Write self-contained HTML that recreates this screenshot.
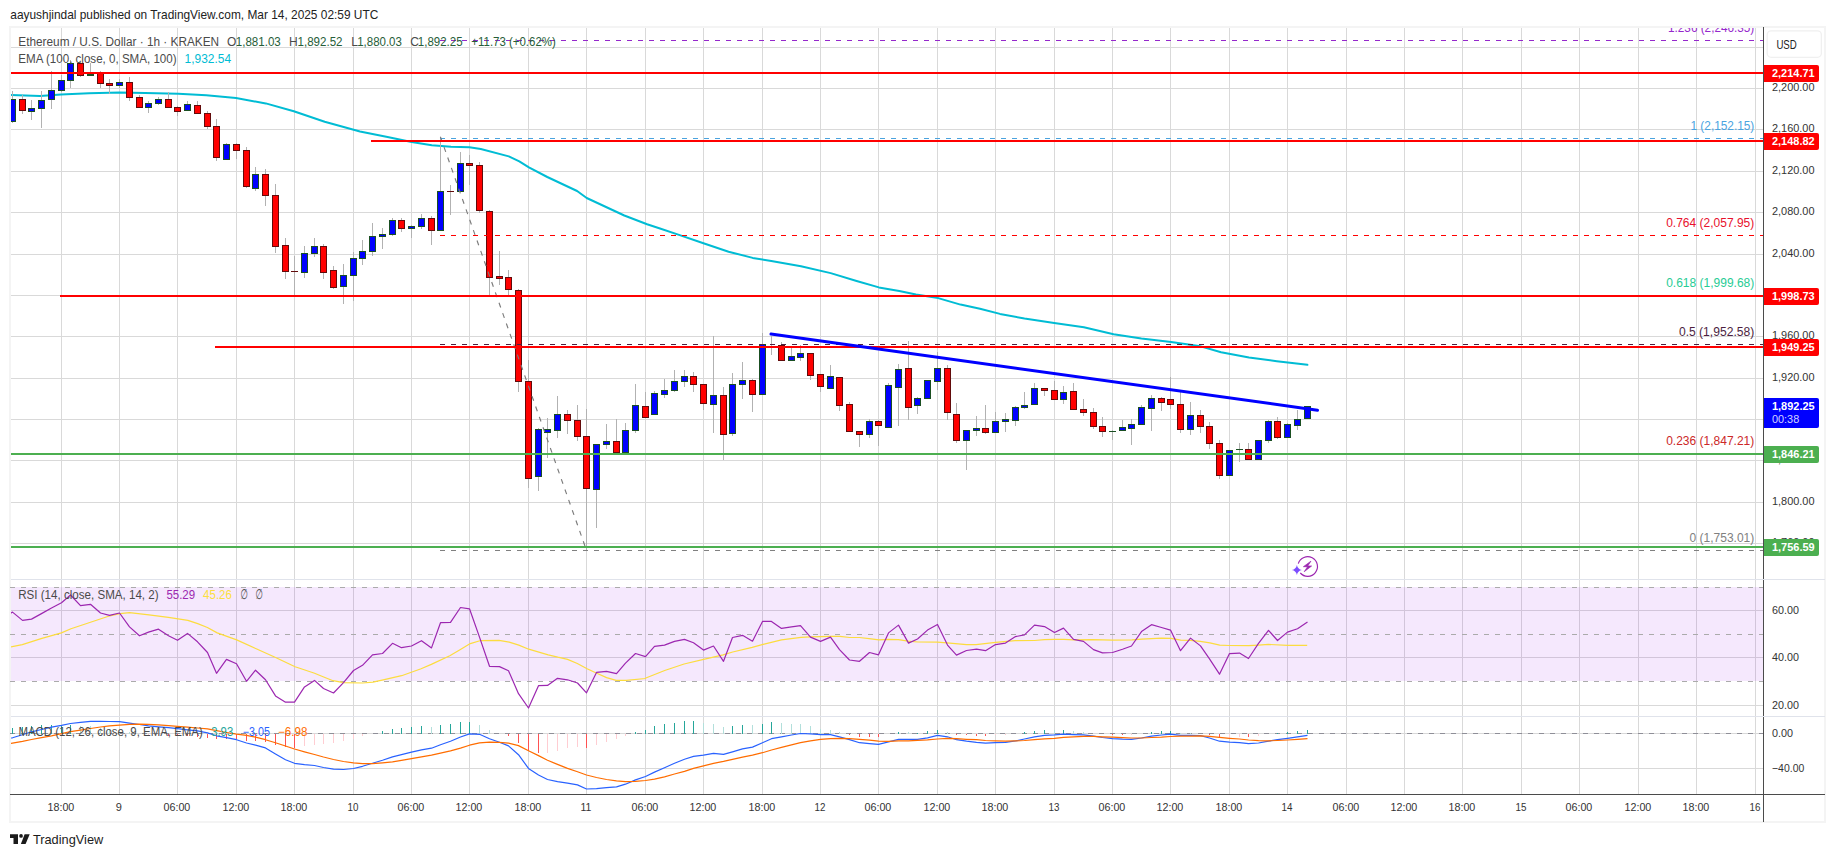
<!DOCTYPE html>
<html lang="en"><head><meta charset="utf-8"><title>ETHUSD chart</title>
<style>html,body{margin:0;padding:0;background:#fff}svg{display:block}</style></head>
<body>
<svg width="1835" height="857" viewBox="0 0 1835 857" font-family="'Liberation Sans', sans-serif">
<rect width="1835" height="857" fill="#fff"/>
<text x="10.3" y="19.3" font-size="13" fill="#222" textLength="368.0" lengthAdjust="spacingAndGlyphs">aayushjindal published on TradingView.com, Mar 14, 2025 02:59 UTC</text>
<defs><clipPath id="cp"><rect x="11" y="28" width="1752" height="766"/></clipPath><clipPath id="cm"><rect x="11" y="28" width="1752" height="551"/></clipPath></defs>
<rect x="10" y="27" width="1815" height="795" fill="#fff" stroke="#f4f4f4" stroke-width="2"/>
<g shape-rendering="crispEdges">
<rect x="61" y="28" width="1" height="766" fill="#d9d9d9"/>
<rect x="119" y="28" width="1" height="766" fill="#d9d9d9"/>
<rect x="177" y="28" width="1" height="766" fill="#d9d9d9"/>
<rect x="236" y="28" width="1" height="766" fill="#d9d9d9"/>
<rect x="294" y="28" width="1" height="766" fill="#d9d9d9"/>
<rect x="353" y="28" width="1" height="766" fill="#d9d9d9"/>
<rect x="411" y="28" width="1" height="766" fill="#d9d9d9"/>
<rect x="469" y="28" width="1" height="766" fill="#d9d9d9"/>
<rect x="528" y="28" width="1" height="766" fill="#d9d9d9"/>
<rect x="586" y="28" width="1" height="766" fill="#d9d9d9"/>
<rect x="645" y="28" width="1" height="766" fill="#d9d9d9"/>
<rect x="703" y="28" width="1" height="766" fill="#d9d9d9"/>
<rect x="762" y="28" width="1" height="766" fill="#d9d9d9"/>
<rect x="820" y="28" width="1" height="766" fill="#d9d9d9"/>
<rect x="878" y="28" width="1" height="766" fill="#d9d9d9"/>
<rect x="937" y="28" width="1" height="766" fill="#d9d9d9"/>
<rect x="995" y="28" width="1" height="766" fill="#d9d9d9"/>
<rect x="1054" y="28" width="1" height="766" fill="#d9d9d9"/>
<rect x="1112" y="28" width="1" height="766" fill="#d9d9d9"/>
<rect x="1170" y="28" width="1" height="766" fill="#d9d9d9"/>
<rect x="1229" y="28" width="1" height="766" fill="#d9d9d9"/>
<rect x="1287" y="28" width="1" height="766" fill="#d9d9d9"/>
<rect x="1346" y="28" width="1" height="766" fill="#d9d9d9"/>
<rect x="1404" y="28" width="1" height="766" fill="#d9d9d9"/>
<rect x="1462" y="28" width="1" height="766" fill="#d9d9d9"/>
<rect x="1521" y="28" width="1" height="766" fill="#d9d9d9"/>
<rect x="1579" y="28" width="1" height="766" fill="#d9d9d9"/>
<rect x="1638" y="28" width="1" height="766" fill="#d9d9d9"/>
<rect x="1696" y="28" width="1" height="766" fill="#d9d9d9"/>
<rect x="1755" y="28" width="1" height="766" fill="#d9d9d9"/>
<rect x="11" y="47" width="1752" height="1" fill="#d9d9d9"/>
<rect x="11" y="88" width="1752" height="1" fill="#d9d9d9"/>
<rect x="11" y="129" width="1752" height="1" fill="#d9d9d9"/>
<rect x="11" y="171" width="1752" height="1" fill="#d9d9d9"/>
<rect x="11" y="212" width="1752" height="1" fill="#d9d9d9"/>
<rect x="11" y="254" width="1752" height="1" fill="#d9d9d9"/>
<rect x="11" y="295" width="1752" height="1" fill="#d9d9d9"/>
<rect x="11" y="336" width="1752" height="1" fill="#d9d9d9"/>
<rect x="11" y="378" width="1752" height="1" fill="#d9d9d9"/>
<rect x="11" y="419" width="1752" height="1" fill="#d9d9d9"/>
<rect x="11" y="460" width="1752" height="1" fill="#d9d9d9"/>
<rect x="11" y="502" width="1752" height="1" fill="#d9d9d9"/>
<rect x="11" y="543" width="1752" height="1" fill="#d9d9d9"/>
<rect x="11" y="610" width="1752" height="1" fill="#d9d9d9"/>
<rect x="11" y="657" width="1752" height="1" fill="#d9d9d9"/>
<rect x="11" y="705" width="1752" height="1" fill="#d9d9d9"/>
<rect x="11" y="733" width="1752" height="1" fill="#d9d9d9"/>
<rect x="11" y="768" width="1752" height="1" fill="#d9d9d9"/>
<rect x="11" y="587" width="1752" height="94" fill="rgb(155,25,235)" fill-opacity="0.1"/>
<rect x="11" y="579" width="1814" height="1" fill="#e0e3eb"/>
<rect x="11" y="716" width="1814" height="1" fill="#e0e3eb"/>
</g>
<line x1="10" y1="587.5" x2="1763" y2="587.5" stroke="#ababab" stroke-width="1" stroke-dasharray="5 6" stroke-dashoffset="0" shape-rendering="crispEdges"/>
<line x1="10" y1="634.5" x2="1763" y2="634.5" stroke="#ababab" stroke-width="1" stroke-dasharray="5 6" stroke-dashoffset="0" shape-rendering="crispEdges"/>
<line x1="10" y1="681.5" x2="1763" y2="681.5" stroke="#ababab" stroke-width="1" stroke-dasharray="5 6" stroke-dashoffset="0" shape-rendering="crispEdges"/>
<line x1="10" y1="733.5" x2="1763" y2="733.5" stroke="#8f8f98" stroke-width="1" stroke-dasharray="5 6" stroke-dashoffset="0" shape-rendering="crispEdges"/>
<g clip-path="url(#cm)">
<polyline points="10.3,95.0 40.0,95.9 61.0,94.6 89.0,93.2 119.7,92.5 145.0,92.9 178.3,93.8 206.3,95.2 236.0,98.1 265.8,103.4 293.8,111.3 324.7,121.8 360.0,131.5 386.3,136.8 411.6,142.0 431.8,145.2 451.0,146.7 469.4,147.3 480.8,149.0 508.8,156.4 519.3,161.3 528.9,167.4 547.3,177.0 577.1,191.0 586.7,198.0 624.3,215.5 647.1,224.3 660.0,228.5 679.7,235.1 702.7,243.0 728.6,251.7 752.7,257.9 771.3,261.0 801.0,266.2 830.7,273.1 856.6,281.0 878.9,287.4 899.3,290.9 916.0,294.4 938.2,298.1 960.5,304.6 980.0,308.8 1000.0,313.9 1024.5,318.6 1054.2,323.0 1083.9,327.3 1113.6,334.2 1141.4,338.4 1171.1,342.1 1198.9,345.9 1221.1,352.3 1249.0,357.5 1276.8,361.2 1307.4,364.8" fill="none" stroke="#00bcd4" stroke-width="2" stroke-linejoin="round" stroke-linecap="round"/>
<g shape-rendering="crispEdges">
<rect x="12" y="91" width="1" height="32" fill="#b2b2b2"/>
<rect x="22" y="95" width="1" height="19" fill="#b2b2b2"/>
<rect x="31" y="100" width="1" height="20" fill="#b2b2b2"/>
<rect x="41" y="91" width="1" height="37" fill="#b2b2b2"/>
<rect x="51" y="71" width="1" height="38" fill="#b2b2b2"/>
<rect x="61" y="75" width="1" height="17" fill="#b2b2b2"/>
<rect x="70" y="60" width="1" height="28" fill="#b2b2b2"/>
<rect x="80" y="62" width="1" height="15" fill="#b2b2b2"/>
<rect x="90" y="63" width="1" height="13" fill="#b2b2b2"/>
<rect x="100" y="71" width="1" height="17" fill="#b2b2b2"/>
<rect x="109" y="79" width="1" height="15" fill="#b2b2b2"/>
<rect x="119" y="79" width="1" height="9" fill="#b2b2b2"/>
<rect x="129" y="77" width="1" height="24" fill="#b2b2b2"/>
<rect x="139" y="95" width="1" height="13" fill="#b2b2b2"/>
<rect x="148" y="101" width="1" height="12" fill="#b2b2b2"/>
<rect x="158" y="97" width="1" height="8" fill="#b2b2b2"/>
<rect x="168" y="92" width="1" height="16" fill="#b2b2b2"/>
<rect x="177" y="106" width="1" height="10" fill="#b2b2b2"/>
<rect x="187" y="101" width="1" height="10" fill="#b2b2b2"/>
<rect x="197" y="101" width="1" height="13" fill="#b2b2b2"/>
<rect x="207" y="111" width="1" height="18" fill="#b2b2b2"/>
<rect x="216" y="119" width="1" height="42" fill="#b2b2b2"/>
<rect x="226" y="143" width="1" height="17" fill="#b2b2b2"/>
<rect x="236" y="143" width="1" height="16" fill="#b2b2b2"/>
<rect x="246" y="147" width="1" height="41" fill="#b2b2b2"/>
<rect x="255" y="167" width="1" height="24" fill="#b2b2b2"/>
<rect x="265" y="169" width="1" height="37" fill="#b2b2b2"/>
<rect x="275" y="184" width="1" height="69" fill="#b2b2b2"/>
<rect x="285" y="238" width="1" height="41" fill="#b2b2b2"/>
<rect x="294" y="256" width="1" height="40" fill="#b2b2b2"/>
<rect x="304" y="246" width="1" height="32" fill="#b2b2b2"/>
<rect x="314" y="238" width="1" height="19" fill="#b2b2b2"/>
<rect x="323" y="244" width="1" height="35" fill="#b2b2b2"/>
<rect x="333" y="266" width="1" height="23" fill="#b2b2b2"/>
<rect x="343" y="264" width="1" height="40" fill="#b2b2b2"/>
<rect x="353" y="252" width="1" height="49" fill="#b2b2b2"/>
<rect x="362" y="240" width="1" height="25" fill="#b2b2b2"/>
<rect x="372" y="223" width="1" height="33" fill="#b2b2b2"/>
<rect x="382" y="228" width="1" height="21" fill="#b2b2b2"/>
<rect x="392" y="218" width="1" height="18" fill="#b2b2b2"/>
<rect x="401" y="218" width="1" height="14" fill="#b2b2b2"/>
<rect x="411" y="225" width="1" height="13" fill="#b2b2b2"/>
<rect x="421" y="214" width="1" height="15" fill="#b2b2b2"/>
<rect x="431" y="216" width="1" height="29" fill="#b2b2b2"/>
<rect x="440" y="137" width="1" height="94" fill="#b2b2b2"/>
<rect x="450" y="185" width="1" height="30" fill="#b2b2b2"/>
<rect x="460" y="152" width="1" height="40" fill="#b2b2b2"/>
<rect x="469" y="155" width="1" height="30" fill="#b2b2b2"/>
<rect x="479" y="162" width="1" height="51" fill="#b2b2b2"/>
<rect x="489" y="210" width="1" height="87" fill="#b2b2b2"/>
<rect x="499" y="251" width="1" height="34" fill="#b2b2b2"/>
<rect x="508" y="270" width="1" height="25" fill="#b2b2b2"/>
<rect x="518" y="289" width="1" height="103" fill="#b2b2b2"/>
<rect x="528" y="360" width="1" height="128" fill="#b2b2b2"/>
<rect x="538" y="428" width="1" height="63" fill="#b2b2b2"/>
<rect x="547" y="418" width="1" height="40" fill="#b2b2b2"/>
<rect x="557" y="396" width="1" height="42" fill="#b2b2b2"/>
<rect x="567" y="410" width="1" height="24" fill="#b2b2b2"/>
<rect x="577" y="405" width="1" height="36" fill="#b2b2b2"/>
<rect x="586" y="409" width="1" height="142" fill="#b2b2b2"/>
<rect x="596" y="444" width="1" height="84" fill="#b2b2b2"/>
<rect x="606" y="424" width="1" height="25" fill="#b2b2b2"/>
<rect x="616" y="419" width="1" height="34" fill="#b2b2b2"/>
<rect x="625" y="423" width="1" height="30" fill="#b2b2b2"/>
<rect x="635" y="384" width="1" height="49" fill="#b2b2b2"/>
<rect x="645" y="392" width="1" height="26" fill="#b2b2b2"/>
<rect x="654" y="391" width="1" height="24" fill="#b2b2b2"/>
<rect x="664" y="379" width="1" height="19" fill="#b2b2b2"/>
<rect x="674" y="370" width="1" height="22" fill="#b2b2b2"/>
<rect x="684" y="370" width="1" height="17" fill="#b2b2b2"/>
<rect x="693" y="372" width="1" height="20" fill="#b2b2b2"/>
<rect x="703" y="384" width="1" height="26" fill="#b2b2b2"/>
<rect x="713" y="336" width="1" height="97" fill="#b2b2b2"/>
<rect x="723" y="387" width="1" height="73" fill="#b2b2b2"/>
<rect x="732" y="373" width="1" height="63" fill="#b2b2b2"/>
<rect x="742" y="362" width="1" height="37" fill="#b2b2b2"/>
<rect x="752" y="379" width="1" height="33" fill="#b2b2b2"/>
<rect x="762" y="333" width="1" height="62" fill="#b2b2b2"/>
<rect x="771" y="336" width="1" height="19" fill="#b2b2b2"/>
<rect x="781" y="342" width="1" height="19" fill="#b2b2b2"/>
<rect x="791" y="347" width="1" height="14" fill="#b2b2b2"/>
<rect x="800" y="345" width="1" height="16" fill="#b2b2b2"/>
<rect x="810" y="353" width="1" height="27" fill="#b2b2b2"/>
<rect x="820" y="374" width="1" height="18" fill="#b2b2b2"/>
<rect x="830" y="365" width="1" height="24" fill="#b2b2b2"/>
<rect x="839" y="377" width="1" height="34" fill="#b2b2b2"/>
<rect x="849" y="402" width="1" height="30" fill="#b2b2b2"/>
<rect x="859" y="431" width="1" height="16" fill="#b2b2b2"/>
<rect x="869" y="419" width="1" height="19" fill="#b2b2b2"/>
<rect x="878" y="420" width="1" height="26" fill="#b2b2b2"/>
<rect x="888" y="383" width="1" height="45" fill="#b2b2b2"/>
<rect x="898" y="364" width="1" height="62" fill="#b2b2b2"/>
<rect x="908" y="341" width="1" height="79" fill="#b2b2b2"/>
<rect x="917" y="397" width="1" height="17" fill="#b2b2b2"/>
<rect x="927" y="380" width="1" height="19" fill="#b2b2b2"/>
<rect x="937" y="352" width="1" height="38" fill="#b2b2b2"/>
<rect x="947" y="365" width="1" height="55" fill="#b2b2b2"/>
<rect x="956" y="403" width="1" height="40" fill="#b2b2b2"/>
<rect x="966" y="430" width="1" height="40" fill="#b2b2b2"/>
<rect x="976" y="416" width="1" height="20" fill="#b2b2b2"/>
<rect x="985" y="405" width="1" height="29" fill="#b2b2b2"/>
<rect x="995" y="412" width="1" height="21" fill="#b2b2b2"/>
<rect x="1005" y="413" width="1" height="19" fill="#b2b2b2"/>
<rect x="1015" y="406" width="1" height="20" fill="#b2b2b2"/>
<rect x="1024" y="392" width="1" height="17" fill="#b2b2b2"/>
<rect x="1034" y="383" width="1" height="22" fill="#b2b2b2"/>
<rect x="1044" y="388" width="1" height="8" fill="#b2b2b2"/>
<rect x="1054" y="381" width="1" height="19" fill="#b2b2b2"/>
<rect x="1063" y="386" width="1" height="18" fill="#b2b2b2"/>
<rect x="1073" y="383" width="1" height="27" fill="#b2b2b2"/>
<rect x="1083" y="399" width="1" height="17" fill="#b2b2b2"/>
<rect x="1093" y="408" width="1" height="21" fill="#b2b2b2"/>
<rect x="1102" y="417" width="1" height="20" fill="#b2b2b2"/>
<rect x="1112" y="430" width="1" height="10" fill="#b2b2b2"/>
<rect x="1122" y="420" width="1" height="11" fill="#b2b2b2"/>
<rect x="1131" y="419" width="1" height="26" fill="#b2b2b2"/>
<rect x="1141" y="405" width="1" height="20" fill="#b2b2b2"/>
<rect x="1151" y="395" width="1" height="36" fill="#b2b2b2"/>
<rect x="1161" y="397" width="1" height="14" fill="#b2b2b2"/>
<rect x="1170" y="377" width="1" height="32" fill="#b2b2b2"/>
<rect x="1180" y="392" width="1" height="41" fill="#b2b2b2"/>
<rect x="1190" y="402" width="1" height="33" fill="#b2b2b2"/>
<rect x="1200" y="410" width="1" height="23" fill="#b2b2b2"/>
<rect x="1209" y="422" width="1" height="27" fill="#b2b2b2"/>
<rect x="1219" y="440" width="1" height="39" fill="#b2b2b2"/>
<rect x="1229" y="450" width="1" height="26" fill="#b2b2b2"/>
<rect x="1239" y="443" width="1" height="19" fill="#b2b2b2"/>
<rect x="1248" y="443" width="1" height="17" fill="#b2b2b2"/>
<rect x="1258" y="440" width="1" height="20" fill="#b2b2b2"/>
<rect x="1268" y="420" width="1" height="23" fill="#b2b2b2"/>
<rect x="1277" y="417" width="1" height="22" fill="#b2b2b2"/>
<rect x="1287" y="423" width="1" height="15" fill="#b2b2b2"/>
<rect x="1297" y="410" width="1" height="20" fill="#b2b2b2"/>
<rect x="1307" y="406" width="1" height="13" fill="#b2b2b2"/>
<rect x="9" y="99" width="7" height="23" fill="#1a4f22"/>
<rect x="10" y="100" width="5" height="21" fill="#0000ff"/>
<rect x="19" y="99" width="7" height="12" fill="#620b0b"/>
<rect x="20" y="100" width="5" height="10" fill="#ff0000"/>
<rect x="28" y="108" width="7" height="4" fill="#1a4f22"/>
<rect x="29" y="109" width="5" height="2" fill="#0000ff"/>
<rect x="38" y="100" width="7" height="9" fill="#1a4f22"/>
<rect x="39" y="101" width="5" height="7" fill="#0000ff"/>
<rect x="48" y="90" width="7" height="10" fill="#1a4f22"/>
<rect x="49" y="91" width="5" height="8" fill="#0000ff"/>
<rect x="58" y="80" width="7" height="11" fill="#1a4f22"/>
<rect x="59" y="81" width="5" height="9" fill="#0000ff"/>
<rect x="67" y="63" width="7" height="18" fill="#1a4f22"/>
<rect x="68" y="64" width="5" height="16" fill="#0000ff"/>
<rect x="77" y="63" width="7" height="13" fill="#620b0b"/>
<rect x="78" y="64" width="5" height="11" fill="#ff0000"/>
<rect x="87" y="74" width="7" height="2" fill="#1a4f22"/>
<rect x="97" y="73" width="7" height="11" fill="#620b0b"/>
<rect x="98" y="74" width="5" height="9" fill="#ff0000"/>
<rect x="106" y="83" width="7" height="3" fill="#620b0b"/>
<rect x="107" y="84" width="5" height="1" fill="#ff0000"/>
<rect x="116" y="82" width="7" height="4" fill="#1a4f22"/>
<rect x="117" y="83" width="5" height="2" fill="#0000ff"/>
<rect x="126" y="82" width="7" height="16" fill="#620b0b"/>
<rect x="127" y="83" width="5" height="14" fill="#ff0000"/>
<rect x="136" y="97" width="7" height="11" fill="#620b0b"/>
<rect x="137" y="98" width="5" height="9" fill="#ff0000"/>
<rect x="145" y="103" width="7" height="5" fill="#1a4f22"/>
<rect x="146" y="104" width="5" height="3" fill="#0000ff"/>
<rect x="155" y="99" width="7" height="5" fill="#1a4f22"/>
<rect x="156" y="100" width="5" height="3" fill="#0000ff"/>
<rect x="165" y="99" width="7" height="9" fill="#620b0b"/>
<rect x="166" y="100" width="5" height="7" fill="#ff0000"/>
<rect x="174" y="107" width="7" height="5" fill="#620b0b"/>
<rect x="175" y="108" width="5" height="3" fill="#ff0000"/>
<rect x="184" y="104" width="7" height="7" fill="#1a4f22"/>
<rect x="185" y="105" width="5" height="5" fill="#0000ff"/>
<rect x="194" y="105" width="7" height="9" fill="#620b0b"/>
<rect x="195" y="106" width="5" height="7" fill="#ff0000"/>
<rect x="204" y="113" width="7" height="14" fill="#620b0b"/>
<rect x="205" y="114" width="5" height="12" fill="#ff0000"/>
<rect x="213" y="126" width="7" height="32" fill="#620b0b"/>
<rect x="214" y="127" width="5" height="30" fill="#ff0000"/>
<rect x="223" y="144" width="7" height="16" fill="#1a4f22"/>
<rect x="224" y="145" width="5" height="14" fill="#0000ff"/>
<rect x="233" y="144" width="7" height="7" fill="#620b0b"/>
<rect x="234" y="145" width="5" height="5" fill="#ff0000"/>
<rect x="243" y="150" width="7" height="37" fill="#620b0b"/>
<rect x="244" y="151" width="5" height="35" fill="#ff0000"/>
<rect x="252" y="174" width="7" height="15" fill="#1a4f22"/>
<rect x="253" y="175" width="5" height="13" fill="#0000ff"/>
<rect x="262" y="174" width="7" height="22" fill="#620b0b"/>
<rect x="263" y="175" width="5" height="20" fill="#ff0000"/>
<rect x="272" y="195" width="7" height="52" fill="#620b0b"/>
<rect x="273" y="196" width="5" height="50" fill="#ff0000"/>
<rect x="282" y="245" width="7" height="27" fill="#620b0b"/>
<rect x="283" y="246" width="5" height="25" fill="#ff0000"/>
<rect x="291" y="271" width="7" height="1" fill="#620b0b"/>
<rect x="301" y="253" width="7" height="20" fill="#1a4f22"/>
<rect x="302" y="254" width="5" height="18" fill="#0000ff"/>
<rect x="311" y="246" width="7" height="8" fill="#1a4f22"/>
<rect x="312" y="247" width="5" height="6" fill="#0000ff"/>
<rect x="320" y="246" width="7" height="27" fill="#620b0b"/>
<rect x="321" y="247" width="5" height="25" fill="#ff0000"/>
<rect x="330" y="270" width="7" height="18" fill="#620b0b"/>
<rect x="331" y="271" width="5" height="16" fill="#ff0000"/>
<rect x="340" y="275" width="7" height="12" fill="#1a4f22"/>
<rect x="341" y="276" width="5" height="10" fill="#0000ff"/>
<rect x="350" y="258" width="7" height="18" fill="#1a4f22"/>
<rect x="351" y="259" width="5" height="16" fill="#0000ff"/>
<rect x="359" y="251" width="7" height="8" fill="#1a4f22"/>
<rect x="360" y="252" width="5" height="6" fill="#0000ff"/>
<rect x="369" y="236" width="7" height="16" fill="#1a4f22"/>
<rect x="370" y="237" width="5" height="14" fill="#0000ff"/>
<rect x="379" y="234" width="7" height="3" fill="#1a4f22"/>
<rect x="380" y="235" width="5" height="1" fill="#0000ff"/>
<rect x="389" y="220" width="7" height="15" fill="#1a4f22"/>
<rect x="390" y="221" width="5" height="13" fill="#0000ff"/>
<rect x="398" y="220" width="7" height="9" fill="#620b0b"/>
<rect x="399" y="221" width="5" height="7" fill="#ff0000"/>
<rect x="408" y="226" width="7" height="3" fill="#1a4f22"/>
<rect x="409" y="227" width="5" height="1" fill="#0000ff"/>
<rect x="418" y="218" width="7" height="9" fill="#1a4f22"/>
<rect x="419" y="219" width="5" height="7" fill="#0000ff"/>
<rect x="428" y="218" width="7" height="13" fill="#620b0b"/>
<rect x="429" y="219" width="5" height="11" fill="#ff0000"/>
<rect x="437" y="191" width="7" height="40" fill="#1a4f22"/>
<rect x="438" y="192" width="5" height="38" fill="#0000ff"/>
<rect x="447" y="191" width="7" height="1" fill="#620b0b"/>
<rect x="457" y="163" width="7" height="29" fill="#1a4f22"/>
<rect x="458" y="164" width="5" height="27" fill="#0000ff"/>
<rect x="466" y="163" width="7" height="3" fill="#620b0b"/>
<rect x="467" y="164" width="5" height="1" fill="#ff0000"/>
<rect x="476" y="165" width="7" height="46" fill="#620b0b"/>
<rect x="477" y="166" width="5" height="44" fill="#ff0000"/>
<rect x="486" y="211" width="7" height="67" fill="#620b0b"/>
<rect x="487" y="212" width="5" height="65" fill="#ff0000"/>
<rect x="496" y="276" width="7" height="3" fill="#620b0b"/>
<rect x="497" y="277" width="5" height="1" fill="#ff0000"/>
<rect x="505" y="277" width="7" height="13" fill="#620b0b"/>
<rect x="506" y="278" width="5" height="11" fill="#ff0000"/>
<rect x="515" y="290" width="7" height="92" fill="#620b0b"/>
<rect x="516" y="291" width="5" height="90" fill="#ff0000"/>
<rect x="525" y="381" width="7" height="98" fill="#620b0b"/>
<rect x="526" y="382" width="5" height="96" fill="#ff0000"/>
<rect x="535" y="429" width="7" height="48" fill="#1a4f22"/>
<rect x="536" y="430" width="5" height="46" fill="#0000ff"/>
<rect x="544" y="429" width="7" height="4" fill="#1a4f22"/>
<rect x="545" y="430" width="5" height="2" fill="#0000ff"/>
<rect x="554" y="414" width="7" height="17" fill="#1a4f22"/>
<rect x="555" y="415" width="5" height="15" fill="#0000ff"/>
<rect x="564" y="414" width="7" height="7" fill="#620b0b"/>
<rect x="565" y="415" width="5" height="5" fill="#ff0000"/>
<rect x="574" y="420" width="7" height="17" fill="#620b0b"/>
<rect x="575" y="421" width="5" height="15" fill="#ff0000"/>
<rect x="583" y="436" width="7" height="53" fill="#620b0b"/>
<rect x="584" y="437" width="5" height="51" fill="#ff0000"/>
<rect x="593" y="444" width="7" height="46" fill="#1a4f22"/>
<rect x="594" y="445" width="5" height="44" fill="#0000ff"/>
<rect x="603" y="441" width="7" height="4" fill="#1a4f22"/>
<rect x="604" y="442" width="5" height="2" fill="#0000ff"/>
<rect x="613" y="441" width="7" height="12" fill="#620b0b"/>
<rect x="614" y="442" width="5" height="10" fill="#ff0000"/>
<rect x="622" y="430" width="7" height="23" fill="#1a4f22"/>
<rect x="623" y="431" width="5" height="21" fill="#0000ff"/>
<rect x="632" y="405" width="7" height="26" fill="#1a4f22"/>
<rect x="633" y="406" width="5" height="24" fill="#0000ff"/>
<rect x="642" y="406" width="7" height="12" fill="#620b0b"/>
<rect x="643" y="407" width="5" height="10" fill="#ff0000"/>
<rect x="651" y="393" width="7" height="22" fill="#1a4f22"/>
<rect x="652" y="394" width="5" height="20" fill="#0000ff"/>
<rect x="661" y="390" width="7" height="5" fill="#1a4f22"/>
<rect x="662" y="391" width="5" height="3" fill="#0000ff"/>
<rect x="671" y="381" width="7" height="10" fill="#1a4f22"/>
<rect x="672" y="382" width="5" height="8" fill="#0000ff"/>
<rect x="681" y="376" width="7" height="6" fill="#1a4f22"/>
<rect x="682" y="377" width="5" height="4" fill="#0000ff"/>
<rect x="690" y="376" width="7" height="9" fill="#620b0b"/>
<rect x="691" y="377" width="5" height="7" fill="#ff0000"/>
<rect x="700" y="384" width="7" height="20" fill="#620b0b"/>
<rect x="701" y="385" width="5" height="18" fill="#ff0000"/>
<rect x="710" y="395" width="7" height="10" fill="#1a4f22"/>
<rect x="711" y="396" width="5" height="8" fill="#0000ff"/>
<rect x="720" y="395" width="7" height="40" fill="#620b0b"/>
<rect x="721" y="396" width="5" height="38" fill="#ff0000"/>
<rect x="729" y="384" width="7" height="50" fill="#1a4f22"/>
<rect x="730" y="385" width="5" height="48" fill="#0000ff"/>
<rect x="739" y="380" width="7" height="5" fill="#1a4f22"/>
<rect x="740" y="381" width="5" height="3" fill="#0000ff"/>
<rect x="749" y="380" width="7" height="15" fill="#620b0b"/>
<rect x="750" y="381" width="5" height="13" fill="#ff0000"/>
<rect x="759" y="344" width="7" height="51" fill="#1a4f22"/>
<rect x="760" y="345" width="5" height="49" fill="#0000ff"/>
<rect x="768" y="346" width="7" height="1" fill="#620b0b"/>
<rect x="778" y="345" width="7" height="16" fill="#620b0b"/>
<rect x="779" y="346" width="5" height="14" fill="#ff0000"/>
<rect x="788" y="356" width="7" height="5" fill="#1a4f22"/>
<rect x="789" y="357" width="5" height="3" fill="#0000ff"/>
<rect x="797" y="353" width="7" height="5" fill="#1a4f22"/>
<rect x="798" y="354" width="5" height="3" fill="#0000ff"/>
<rect x="807" y="353" width="7" height="23" fill="#620b0b"/>
<rect x="808" y="354" width="5" height="21" fill="#ff0000"/>
<rect x="817" y="374" width="7" height="13" fill="#620b0b"/>
<rect x="818" y="375" width="5" height="11" fill="#ff0000"/>
<rect x="827" y="376" width="7" height="13" fill="#1a4f22"/>
<rect x="828" y="377" width="5" height="11" fill="#0000ff"/>
<rect x="836" y="377" width="7" height="29" fill="#620b0b"/>
<rect x="837" y="378" width="5" height="27" fill="#ff0000"/>
<rect x="846" y="404" width="7" height="28" fill="#620b0b"/>
<rect x="847" y="405" width="5" height="26" fill="#ff0000"/>
<rect x="856" y="431" width="7" height="4" fill="#620b0b"/>
<rect x="857" y="432" width="5" height="2" fill="#ff0000"/>
<rect x="866" y="421" width="7" height="14" fill="#1a4f22"/>
<rect x="867" y="422" width="5" height="12" fill="#0000ff"/>
<rect x="875" y="421" width="7" height="5" fill="#620b0b"/>
<rect x="876" y="422" width="5" height="3" fill="#ff0000"/>
<rect x="885" y="385" width="7" height="43" fill="#1a4f22"/>
<rect x="886" y="386" width="5" height="41" fill="#0000ff"/>
<rect x="895" y="369" width="7" height="19" fill="#1a4f22"/>
<rect x="896" y="370" width="5" height="17" fill="#0000ff"/>
<rect x="905" y="368" width="7" height="40" fill="#620b0b"/>
<rect x="906" y="369" width="5" height="38" fill="#ff0000"/>
<rect x="914" y="398" width="7" height="8" fill="#1a4f22"/>
<rect x="915" y="399" width="5" height="6" fill="#0000ff"/>
<rect x="924" y="380" width="7" height="19" fill="#1a4f22"/>
<rect x="925" y="381" width="5" height="17" fill="#0000ff"/>
<rect x="934" y="368" width="7" height="14" fill="#1a4f22"/>
<rect x="935" y="369" width="5" height="12" fill="#0000ff"/>
<rect x="944" y="368" width="7" height="45" fill="#620b0b"/>
<rect x="945" y="369" width="5" height="43" fill="#ff0000"/>
<rect x="953" y="414" width="7" height="27" fill="#620b0b"/>
<rect x="954" y="415" width="5" height="25" fill="#ff0000"/>
<rect x="963" y="430" width="7" height="11" fill="#1a4f22"/>
<rect x="964" y="431" width="5" height="9" fill="#0000ff"/>
<rect x="973" y="428" width="7" height="3" fill="#1a4f22"/>
<rect x="974" y="429" width="5" height="1" fill="#0000ff"/>
<rect x="982" y="428" width="7" height="5" fill="#620b0b"/>
<rect x="983" y="429" width="5" height="3" fill="#ff0000"/>
<rect x="992" y="421" width="7" height="12" fill="#1a4f22"/>
<rect x="993" y="422" width="5" height="10" fill="#0000ff"/>
<rect x="1002" y="419" width="7" height="3" fill="#1a4f22"/>
<rect x="1003" y="420" width="5" height="1" fill="#0000ff"/>
<rect x="1012" y="407" width="7" height="14" fill="#1a4f22"/>
<rect x="1013" y="408" width="5" height="12" fill="#0000ff"/>
<rect x="1021" y="405" width="7" height="3" fill="#1a4f22"/>
<rect x="1022" y="406" width="5" height="1" fill="#0000ff"/>
<rect x="1031" y="388" width="7" height="17" fill="#1a4f22"/>
<rect x="1032" y="389" width="5" height="15" fill="#0000ff"/>
<rect x="1041" y="388" width="7" height="3" fill="#620b0b"/>
<rect x="1042" y="389" width="5" height="1" fill="#ff0000"/>
<rect x="1051" y="390" width="7" height="10" fill="#620b0b"/>
<rect x="1052" y="391" width="5" height="8" fill="#ff0000"/>
<rect x="1060" y="392" width="7" height="8" fill="#1a4f22"/>
<rect x="1061" y="393" width="5" height="6" fill="#0000ff"/>
<rect x="1070" y="391" width="7" height="19" fill="#620b0b"/>
<rect x="1071" y="392" width="5" height="17" fill="#ff0000"/>
<rect x="1080" y="409" width="7" height="4" fill="#620b0b"/>
<rect x="1081" y="410" width="5" height="2" fill="#ff0000"/>
<rect x="1090" y="412" width="7" height="15" fill="#620b0b"/>
<rect x="1091" y="413" width="5" height="13" fill="#ff0000"/>
<rect x="1099" y="426" width="7" height="6" fill="#620b0b"/>
<rect x="1100" y="427" width="5" height="4" fill="#ff0000"/>
<rect x="1109" y="431" width="7" height="1" fill="#1a4f22"/>
<rect x="1119" y="427" width="7" height="4" fill="#1a4f22"/>
<rect x="1120" y="428" width="5" height="2" fill="#0000ff"/>
<rect x="1128" y="424" width="7" height="5" fill="#1a4f22"/>
<rect x="1129" y="425" width="5" height="3" fill="#0000ff"/>
<rect x="1138" y="407" width="7" height="18" fill="#1a4f22"/>
<rect x="1139" y="408" width="5" height="16" fill="#0000ff"/>
<rect x="1148" y="398" width="7" height="11" fill="#1a4f22"/>
<rect x="1149" y="399" width="5" height="9" fill="#0000ff"/>
<rect x="1158" y="398" width="7" height="5" fill="#620b0b"/>
<rect x="1159" y="399" width="5" height="3" fill="#ff0000"/>
<rect x="1167" y="399" width="7" height="6" fill="#620b0b"/>
<rect x="1168" y="400" width="5" height="4" fill="#ff0000"/>
<rect x="1177" y="404" width="7" height="26" fill="#620b0b"/>
<rect x="1178" y="405" width="5" height="24" fill="#ff0000"/>
<rect x="1187" y="415" width="7" height="15" fill="#1a4f22"/>
<rect x="1188" y="416" width="5" height="13" fill="#0000ff"/>
<rect x="1197" y="415" width="7" height="12" fill="#620b0b"/>
<rect x="1198" y="416" width="5" height="10" fill="#ff0000"/>
<rect x="1206" y="426" width="7" height="18" fill="#620b0b"/>
<rect x="1207" y="427" width="5" height="16" fill="#ff0000"/>
<rect x="1216" y="443" width="7" height="33" fill="#620b0b"/>
<rect x="1217" y="444" width="5" height="31" fill="#ff0000"/>
<rect x="1226" y="450" width="7" height="26" fill="#1a4f22"/>
<rect x="1227" y="451" width="5" height="24" fill="#0000ff"/>
<rect x="1236" y="449" width="7" height="1" fill="#1a4f22"/>
<rect x="1245" y="449" width="7" height="11" fill="#620b0b"/>
<rect x="1246" y="450" width="5" height="9" fill="#ff0000"/>
<rect x="1255" y="440" width="7" height="20" fill="#1a4f22"/>
<rect x="1256" y="441" width="5" height="18" fill="#0000ff"/>
<rect x="1265" y="421" width="7" height="20" fill="#1a4f22"/>
<rect x="1266" y="422" width="5" height="18" fill="#0000ff"/>
<rect x="1274" y="421" width="7" height="17" fill="#620b0b"/>
<rect x="1275" y="422" width="5" height="15" fill="#ff0000"/>
<rect x="1284" y="424" width="7" height="14" fill="#1a4f22"/>
<rect x="1285" y="425" width="5" height="12" fill="#0000ff"/>
<rect x="1294" y="419" width="7" height="7" fill="#1a4f22"/>
<rect x="1295" y="420" width="5" height="5" fill="#0000ff"/>
<rect x="1304" y="406" width="7" height="13" fill="#1a4f22"/>
<rect x="1305" y="407" width="5" height="11" fill="#0000ff"/>
</g>
<line x1="440" y1="40.5" x2="1763" y2="40.5" stroke="#9528cc" stroke-width="1" stroke-dasharray="5 6" stroke-dashoffset="0" shape-rendering="crispEdges"/>
<line x1="440" y1="138.5" x2="1763" y2="138.5" stroke="#4aa3df" stroke-width="1" stroke-dasharray="5 6" stroke-dashoffset="0" shape-rendering="crispEdges"/>
<line x1="440" y1="235.5" x2="1763" y2="235.5" stroke="#ff0000" stroke-width="1" stroke-dasharray="5 6" stroke-dashoffset="0" shape-rendering="crispEdges"/>
<line x1="440" y1="344.5" x2="1763" y2="344.5" stroke="#4d1f3f" stroke-width="1" stroke-dasharray="5 6" stroke-dashoffset="0" shape-rendering="crispEdges"/>
<line x1="440" y1="550.5" x2="1763" y2="550.5" stroke="#808080" stroke-width="1" stroke-dasharray="5 6" stroke-dashoffset="0" shape-rendering="crispEdges"/>
<line x1="440.4" y1="136.8" x2="586.5" y2="550.4" stroke="#7c7c7c" stroke-width="1.15" stroke-dasharray="5 6"/>
<g shape-rendering="crispEdges">
<rect x="11" y="72" width="1752" height="2" fill="#ff0000"/>
<rect x="371" y="140" width="1392" height="2" fill="#ff0000"/>
<rect x="60" y="295" width="1703" height="2" fill="#ff0000"/>
<rect x="215" y="346" width="1548" height="2" fill="#ff0000"/>
<rect x="11" y="453" width="1752" height="2" fill="#4caf50"/>
<rect x="11" y="546" width="1752" height="2" fill="#4caf50"/>
</g>
<line x1="771" y1="334.0" x2="1317.5" y2="410.2" stroke="#0000ff" stroke-width="3" stroke-linecap="round"/>
</g>
<text x="1754.3" y="32.2" font-size="12" fill="#9528cc" text-anchor="end" textLength="86.3" lengthAdjust="spacingAndGlyphs" clip-path="url(#cm)">1.236 (2,246.35)</text>
<text x="1754.3" y="129.8" font-size="12" fill="#4aa3df" text-anchor="end" textLength="63.8" lengthAdjust="spacingAndGlyphs" clip-path="url(#cm)">1 (2,152.15)</text>
<text x="1754.3" y="226.7" font-size="12" fill="#e8112d" text-anchor="end" textLength="88.1" lengthAdjust="spacingAndGlyphs" clip-path="url(#cm)">0.764 (2,057.95)</text>
<text x="1754.3" y="287.0" font-size="12" fill="#28cc95" text-anchor="end" textLength="88.1" lengthAdjust="spacingAndGlyphs" clip-path="url(#cm)">0.618 (1,999.68)</text>
<text x="1754.3" y="335.8" font-size="12" fill="#4d1f3f" text-anchor="end" textLength="75.4" lengthAdjust="spacingAndGlyphs" clip-path="url(#cm)">0.5 (1,952.58)</text>
<text x="1754.3" y="444.8" font-size="12" fill="#cc2828" text-anchor="end" textLength="88.1" lengthAdjust="spacingAndGlyphs" clip-path="url(#cm)">0.236 (1,847.21)</text>
<text x="1754.3" y="541.8" font-size="12" fill="#808080" text-anchor="end" textLength="64.8" lengthAdjust="spacingAndGlyphs" clip-path="url(#cm)">0 (1,753.01)</text>
<g clip-path="url(#cp)">
<polyline points="10.8,647.0 22.3,644.6 41.9,638.4 61.4,632.9 71.0,628.8 90.5,622.3 110.0,615.8 119.8,613.6 129.5,612.7 149.0,614.9 168.4,617.3 187.9,620.4 197.7,623.6 207.4,627.5 217.2,632.9 236.7,639.9 256.2,648.8 275.6,657.5 295.1,666.8 314.6,673.3 320.0,675.5 333.0,680.7 343.6,682.6 362.7,683.0 372.9,682.2 382.1,680.2 401.6,675.7 421.1,668.7 431.3,664.4 449.8,655.7 460.0,649.8 470.3,643.6 479.9,640.7 499.0,640.3 509.2,642.1 518.8,645.1 528.7,649.2 548.2,654.8 557.8,657.2 567.6,659.4 577.3,663.5 587.1,668.7 596.8,673.3 606.6,677.6 616.2,680.4 626.1,680.4 645.5,678.5 645.2,678.3 664.7,670.5 684.1,664.0 703.6,659.4 723.1,654.8 732.7,652.0 752.2,647.3 762.1,644.6 781.5,639.9 801.0,637.3 810.7,636.8 830.1,636.4 840.0,636.4 849.6,637.5 859.4,637.5 869.1,638.6 878.9,639.9 888.6,639.4 898.4,639.6 908.0,641.2 917.9,642.0 937.3,642.1 947.0,642.9 966.5,644.6 976.1,644.6 995.6,642.3 1015.1,640.7 1034.6,640.5 1044.4,639.7 1054.0,639.4 1063.9,639.4 1073.5,639.9 1093.0,639.6 1112.5,640.1 1132.0,639.9 1141.8,639.2 1161.3,638.1 1170.9,638.4 1180.7,640.1 1190.4,640.3 1200.2,641.4 1209.9,642.9 1219.7,645.1 1229.3,645.5 1248.8,645.7 1258.6,645.1 1268.3,644.4 1287.8,645.3 1307.2,645.3" fill="none" stroke="#fcdc3f" stroke-width="1.2" stroke-linejoin="round"/>
<polyline points="2.5,618.0 12.5,612.1 22.5,620.4 31.5,619.1 41.5,613.6 51.5,608.0 61.5,602.8 70.5,595.0 80.5,605.6 90.5,604.3 100.5,613.0 109.5,615.3 119.5,613.0 129.5,626.9 139.5,635.8 148.5,632.1 158.5,629.2 168.5,635.8 177.5,640.3 187.5,633.4 197.5,641.8 207.5,652.5 216.5,673.3 226.5,659.4 236.5,663.7 246.5,681.3 255.5,670.2 265.5,679.8 275.5,695.9 285.5,702.2 294.5,702.2 304.5,686.9 314.5,680.4 323.5,688.5 333.5,693.0 343.5,682.6 353.5,670.5 362.5,665.3 372.5,654.8 382.5,653.5 392.5,643.3 401.5,647.7 411.5,646.0 421.5,640.7 431.5,647.9 440.5,622.7 450.5,622.3 460.5,607.5 469.5,608.8 479.5,637.1 489.5,666.3 499.5,666.6 508.5,670.7 518.5,693.7 528.5,708.0 538.5,685.7 547.5,685.4 557.5,678.3 567.5,679.8 577.5,683.0 586.5,692.8 596.5,672.4 606.5,671.3 616.5,673.7 625.5,663.1 635.5,653.5 645.5,656.6 654.5,646.4 664.5,645.1 674.5,641.4 684.5,639.4 693.5,642.7 703.5,650.1 713.5,646.0 723.5,661.3 732.5,637.5 742.5,635.3 752.5,641.2 762.5,621.4 771.5,621.4 781.5,628.4 791.5,626.9 800.5,625.6 810.5,637.1 820.5,641.4 830.5,637.1 839.5,649.6 849.5,660.0 859.5,661.3 869.5,652.5 878.5,654.8 888.5,632.9 898.5,625.1 908.5,643.1 917.5,639.0 927.5,630.1 937.5,624.5 947.5,645.1 956.5,655.1 966.5,650.5 976.5,649.2 985.5,650.7 995.5,644.6 1005.5,643.1 1015.5,636.6 1024.5,634.9 1034.5,625.1 1044.5,626.6 1054.5,632.5 1063.5,628.1 1073.5,639.4 1083.5,641.4 1093.5,649.6 1102.5,652.9 1112.5,652.5 1122.5,649.2 1131.5,646.0 1141.5,631.6 1151.5,624.7 1161.5,627.5 1170.5,630.1 1180.5,650.7 1190.5,638.1 1200.5,645.9 1209.5,658.8 1219.5,674.2 1229.5,653.6 1239.5,653.1 1248.5,658.5 1258.5,643.3 1268.5,630.3 1277.5,640.5 1287.5,632.1 1297.5,628.8 1307.5,621.9" fill="none" stroke="#9c27b0" stroke-width="1.2" stroke-linejoin="round"/>
<g shape-rendering="crispEdges">
<rect x="12" y="728.0" width="1" height="5.5" fill="#26a69a"/>
<rect x="22" y="726.8" width="1" height="6.7" fill="#26a69a"/>
<rect x="31" y="725.8" width="1" height="7.7" fill="#26a69a"/>
<rect x="41" y="725.4" width="1" height="8.1" fill="#26a69a"/>
<rect x="51" y="725.0" width="1" height="8.5" fill="#26a69a"/>
<rect x="61" y="725.2" width="1" height="8.3" fill="#26a69a"/>
<rect x="70" y="725.4" width="1" height="8.1" fill="#26a69a"/>
<rect x="80" y="725.8" width="1" height="7.7" fill="#b2dfdb"/>
<rect x="90" y="726.3" width="1" height="7.2" fill="#b2dfdb"/>
<rect x="100" y="728.0" width="1" height="5.5" fill="#b2dfdb"/>
<rect x="109" y="729.1" width="1" height="4.4" fill="#b2dfdb"/>
<rect x="119" y="730.1" width="1" height="3.4" fill="#b2dfdb"/>
<rect x="129" y="732.4" width="1" height="1.1" fill="#b2dfdb"/>
<rect x="148" y="733.5" width="1" height="1.3" fill="#ffcdd2"/>
<rect x="158" y="733.5" width="1" height="2.0" fill="#ffcdd2"/>
<rect x="168" y="733.5" width="1" height="2.1" fill="#ff5252"/>
<rect x="177" y="733.5" width="1" height="2.3" fill="#ff5252"/>
<rect x="187" y="733.5" width="1" height="2.6" fill="#ff5252"/>
<rect x="197" y="733.5" width="1" height="3.0" fill="#ff5252"/>
<rect x="207" y="733.5" width="1" height="4.0" fill="#ff5252"/>
<rect x="216" y="733.5" width="1" height="5.1" fill="#ff5252"/>
<rect x="226" y="733.5" width="1" height="5.2" fill="#ff5252"/>
<rect x="236" y="733.5" width="1" height="5.5" fill="#ff5252"/>
<rect x="246" y="733.5" width="1" height="7.7" fill="#ff5252"/>
<rect x="255" y="733.5" width="1" height="7.8" fill="#ff5252"/>
<rect x="265" y="733.5" width="1" height="8.2" fill="#ff5252"/>
<rect x="275" y="733.5" width="1" height="11.1" fill="#ff5252"/>
<rect x="285" y="733.5" width="1" height="13.7" fill="#ff5252"/>
<rect x="294" y="733.5" width="1" height="14.2" fill="#ff5252"/>
<rect x="304" y="733.5" width="1" height="12.9" fill="#ffcdd2"/>
<rect x="314" y="733.5" width="1" height="11.0" fill="#ffcdd2"/>
<rect x="323" y="733.5" width="1" height="10.4" fill="#ffcdd2"/>
<rect x="333" y="733.5" width="1" height="9.6" fill="#ffcdd2"/>
<rect x="343" y="733.5" width="1" height="7.9" fill="#ffcdd2"/>
<rect x="353" y="733.5" width="1" height="5.5" fill="#ffcdd2"/>
<rect x="362" y="733.5" width="1" height="2.6" fill="#ffcdd2"/>
<rect x="382" y="731.0" width="1" height="2.5" fill="#26a69a"/>
<rect x="392" y="728.6" width="1" height="4.9" fill="#26a69a"/>
<rect x="401" y="727.9" width="1" height="5.6" fill="#26a69a"/>
<rect x="411" y="727.2" width="1" height="6.3" fill="#26a69a"/>
<rect x="421" y="726.4" width="1" height="7.1" fill="#26a69a"/>
<rect x="431" y="726.6" width="1" height="6.9" fill="#b2dfdb"/>
<rect x="440" y="725.1" width="1" height="8.4" fill="#26a69a"/>
<rect x="450" y="723.9" width="1" height="9.6" fill="#26a69a"/>
<rect x="460" y="722.4" width="1" height="11.1" fill="#26a69a"/>
<rect x="469" y="722.1" width="1" height="11.4" fill="#26a69a"/>
<rect x="479" y="724.9" width="1" height="8.6" fill="#b2dfdb"/>
<rect x="489" y="730.0" width="1" height="3.5" fill="#b2dfdb"/>
<rect x="508" y="733.5" width="1" height="2.8" fill="#ff5252"/>
<rect x="518" y="733.5" width="1" height="9.1" fill="#ff5252"/>
<rect x="528" y="733.5" width="1" height="17.7" fill="#ff5252"/>
<rect x="538" y="733.5" width="1" height="19.4" fill="#ff5252"/>
<rect x="547" y="733.5" width="1" height="19.1" fill="#ffcdd2"/>
<rect x="557" y="733.5" width="1" height="17.2" fill="#ffcdd2"/>
<rect x="567" y="733.5" width="1" height="14.7" fill="#ffcdd2"/>
<rect x="577" y="733.5" width="1" height="13.1" fill="#ffcdd2"/>
<rect x="586" y="733.5" width="1" height="14.0" fill="#ff5252"/>
<rect x="596" y="733.5" width="1" height="11.0" fill="#ffcdd2"/>
<rect x="606" y="733.5" width="1" height="8.2" fill="#ffcdd2"/>
<rect x="616" y="733.5" width="1" height="5.9" fill="#ffcdd2"/>
<rect x="625" y="733.5" width="1" height="2.5" fill="#ffcdd2"/>
<rect x="635" y="732.0" width="1" height="1.5" fill="#26a69a"/>
<rect x="645" y="729.5" width="1" height="4.0" fill="#26a69a"/>
<rect x="654" y="726.4" width="1" height="7.1" fill="#26a69a"/>
<rect x="664" y="724.4" width="1" height="9.1" fill="#26a69a"/>
<rect x="674" y="722.8" width="1" height="10.7" fill="#26a69a"/>
<rect x="684" y="721.3" width="1" height="12.2" fill="#26a69a"/>
<rect x="693" y="721.4" width="1" height="12.1" fill="#26a69a"/>
<rect x="703" y="722.9" width="1" height="10.6" fill="#b2dfdb"/>
<rect x="713" y="723.5" width="1" height="10.0" fill="#b2dfdb"/>
<rect x="723" y="726.6" width="1" height="6.9" fill="#b2dfdb"/>
<rect x="732" y="726.0" width="1" height="7.5" fill="#26a69a"/>
<rect x="742" y="725.3" width="1" height="8.2" fill="#26a69a"/>
<rect x="752" y="725.4" width="1" height="8.1" fill="#b2dfdb"/>
<rect x="762" y="723.5" width="1" height="10.0" fill="#26a69a"/>
<rect x="771" y="722.2" width="1" height="11.3" fill="#26a69a"/>
<rect x="781" y="722.9" width="1" height="10.6" fill="#b2dfdb"/>
<rect x="791" y="723.6" width="1" height="9.9" fill="#b2dfdb"/>
<rect x="800" y="724.4" width="1" height="9.1" fill="#b2dfdb"/>
<rect x="810" y="726.4" width="1" height="7.1" fill="#b2dfdb"/>
<rect x="820" y="728.6" width="1" height="4.9" fill="#b2dfdb"/>
<rect x="830" y="729.5" width="1" height="4.0" fill="#b2dfdb"/>
<rect x="839" y="732.0" width="1" height="1.5" fill="#b2dfdb"/>
<rect x="849" y="733.5" width="1" height="1.0" fill="#ff5252"/>
<rect x="859" y="733.5" width="1" height="3.2" fill="#ff5252"/>
<rect x="869" y="733.5" width="1" height="3.5" fill="#ff5252"/>
<rect x="878" y="733.5" width="1" height="3.2" fill="#ff5252"/>
<rect x="888" y="733.5" width="1" height="0.6" fill="#ffcdd2"/>
<rect x="898" y="732.2" width="1" height="1.3" fill="#26a69a"/>
<rect x="908" y="732.2" width="1" height="1.3" fill="#b2dfdb"/>
<rect x="917" y="732.6" width="1" height="0.9" fill="#26a69a"/>
<rect x="927" y="731.4" width="1" height="2.1" fill="#26a69a"/>
<rect x="937" y="729.8" width="1" height="3.7" fill="#26a69a"/>
<rect x="947" y="732.0" width="1" height="1.5" fill="#b2dfdb"/>
<rect x="956" y="733.5" width="1" height="1.0" fill="#ff5252"/>
<rect x="966" y="733.5" width="1" height="1.9" fill="#ff5252"/>
<rect x="976" y="733.5" width="1" height="2.6" fill="#ff5252"/>
<rect x="985" y="733.5" width="1" height="2.6" fill="#ff5252"/>
<rect x="995" y="733.5" width="1" height="1.8" fill="#ffcdd2"/>
<rect x="1005" y="733.5" width="1" height="1.2" fill="#ffcdd2"/>
<rect x="1024" y="732.0" width="1" height="1.5" fill="#26a69a"/>
<rect x="1034" y="730.6" width="1" height="2.9" fill="#26a69a"/>
<rect x="1044" y="730.0" width="1" height="3.5" fill="#26a69a"/>
<rect x="1054" y="730.1" width="1" height="3.4" fill="#b2dfdb"/>
<rect x="1063" y="730.3" width="1" height="3.2" fill="#26a69a"/>
<rect x="1073" y="731.3" width="1" height="2.2" fill="#b2dfdb"/>
<rect x="1083" y="732.0" width="1" height="1.5" fill="#b2dfdb"/>
<rect x="1102" y="733.5" width="1" height="0.7" fill="#ff5252"/>
<rect x="1112" y="733.5" width="1" height="1.3" fill="#ff5252"/>
<rect x="1122" y="733.5" width="1" height="1.5" fill="#ff5252"/>
<rect x="1131" y="733.5" width="1" height="1.3" fill="#ffcdd2"/>
<rect x="1151" y="732.0" width="1" height="1.5" fill="#26a69a"/>
<rect x="1161" y="731.4" width="1" height="2.1" fill="#26a69a"/>
<rect x="1170" y="731.1" width="1" height="2.4" fill="#26a69a"/>
<rect x="1180" y="732.6" width="1" height="0.9" fill="#b2dfdb"/>
<rect x="1190" y="732.8" width="1" height="0.7" fill="#b2dfdb"/>
<rect x="1209" y="733.5" width="1" height="1.6" fill="#ff5252"/>
<rect x="1219" y="733.5" width="1" height="3.8" fill="#ff5252"/>
<rect x="1229" y="733.5" width="1" height="4.0" fill="#ffcdd2"/>
<rect x="1239" y="733.5" width="1" height="3.7" fill="#ffcdd2"/>
<rect x="1248" y="733.5" width="1" height="3.7" fill="#ff5252"/>
<rect x="1258" y="733.5" width="1" height="2.4" fill="#ffcdd2"/>
<rect x="1277" y="732.8" width="1" height="0.7" fill="#26a69a"/>
<rect x="1287" y="731.7" width="1" height="1.8" fill="#26a69a"/>
<rect x="1297" y="730.9" width="1" height="2.6" fill="#26a69a"/>
<rect x="1307" y="730.1" width="1" height="3.4" fill="#26a69a"/>
</g>
<polyline points="2.5,739.2 12.5,737.8 22.5,734.7 31.5,731.8 41.5,729.5 51.5,727.2 61.5,725.4 70.5,723.5 80.5,722.4 90.5,721.3 100.5,721.4 109.5,721.5 119.5,721.7 129.5,723.1 139.5,724.5 148.5,725.8 158.5,726.8 168.5,727.7 177.5,728.6 187.5,729.8 197.5,730.9 207.5,732.9 216.5,735.8 226.5,737.7 236.5,739.7 246.5,743.0 255.5,745.1 265.5,747.9 275.5,753.9 285.5,759.7 294.5,763.3 304.5,764.7 314.5,765.5 323.5,767.5 333.5,769.1 343.5,769.5 353.5,768.5 362.5,766.3 372.5,763.3 382.5,760.3 392.5,756.9 401.5,754.7 411.5,752.2 421.5,749.8 431.5,748.2 440.5,744.8 450.5,741.3 460.5,737.0 469.5,733.9 479.5,734.3 489.5,738.7 499.5,742.2 508.5,745.9 518.5,754.7 528.5,768.4 538.5,775.0 547.5,779.5 557.5,781.7 567.5,783.1 577.5,784.9 586.5,789.0 596.5,788.6 606.5,787.7 616.5,786.8 625.5,784.2 635.5,779.9 645.5,776.5 654.5,772.1 664.5,767.7 674.5,763.3 684.5,759.2 693.5,756.4 703.5,755.2 713.5,753.3 723.5,754.4 732.5,751.8 742.5,748.9 752.5,747.1 762.5,742.7 771.5,738.7 781.5,736.8 791.5,735.0 800.5,733.5 810.5,733.8 820.5,734.6 830.5,734.6 839.5,736.8 849.5,739.7 859.5,742.7 869.5,743.7 878.5,744.4 888.5,741.9 898.5,739.4 908.5,739.4 917.5,739.4 927.5,737.8 937.5,735.3 947.5,736.8 956.5,739.7 966.5,741.2 976.5,742.4 985.5,743.1 995.5,742.7 1005.5,742.4 1015.5,740.9 1024.5,739.0 1034.5,736.8 1044.5,735.3 1054.5,734.9 1063.5,734.1 1073.5,734.6 1083.5,734.9 1093.5,736.1 1102.5,737.5 1112.5,738.6 1122.5,739.1 1131.5,739.3 1141.5,738.0 1151.5,736.1 1161.5,735.0 1170.5,734.1 1180.5,735.3 1190.5,735.3 1200.5,735.6 1209.5,738.0 1219.5,741.2 1229.5,742.2 1239.5,742.7 1248.5,743.7 1258.5,743.0 1268.5,741.2 1277.5,739.7 1287.5,738.3 1297.5,736.8 1307.5,735.3" fill="none" stroke="#2962ff" stroke-width="1.2" stroke-linejoin="round"/>
<polyline points="2.5,745.1 12.5,743.2 22.5,741.4 31.5,739.5 41.5,737.6 51.5,735.8 61.5,733.7 70.5,731.6 80.5,730.1 90.5,728.5 100.5,727.0 109.5,725.9 119.5,725.1 129.5,724.3 139.5,724.2 148.5,724.4 158.5,724.9 168.5,725.6 177.5,726.3 187.5,727.1 197.5,728.0 207.5,728.9 216.5,730.7 226.5,732.5 236.5,734.2 246.5,735.3 255.5,737.2 265.5,739.7 275.5,742.8 285.5,746.0 294.5,749.0 304.5,751.8 314.5,754.5 323.5,757.0 333.5,759.5 343.5,761.5 353.5,762.9 362.5,763.7 372.5,763.6 382.5,762.8 392.5,761.8 401.5,760.3 411.5,758.6 421.5,756.8 431.5,755.2 440.5,753.2 450.5,750.9 460.5,748.1 469.5,745.2 479.5,742.9 489.5,742.2 499.5,742.4 508.5,743.1 518.5,745.6 528.5,750.8 538.5,755.6 547.5,760.3 557.5,764.4 567.5,768.4 577.5,771.8 586.5,775.0 596.5,777.5 606.5,779.5 616.5,780.9 625.5,781.7 635.5,781.4 645.5,780.5 654.5,779.2 664.5,776.8 674.5,774.0 684.5,771.4 693.5,768.4 703.5,765.8 713.5,763.3 723.5,761.4 732.5,759.3 742.5,757.1 752.5,755.2 762.5,752.7 771.5,750.0 781.5,747.4 791.5,744.9 800.5,742.7 810.5,740.9 820.5,739.4 830.5,738.6 839.5,738.3 849.5,738.7 859.5,739.4 869.5,740.2 878.5,741.2 888.5,741.3 898.5,740.8 908.5,740.8 917.5,740.3 927.5,739.9 937.5,739.0 947.5,738.3 956.5,738.7 966.5,739.3 976.5,739.7 985.5,740.5 995.5,740.9 1005.5,741.2 1015.5,740.9 1024.5,740.5 1034.5,739.7 1044.5,738.8 1054.5,738.3 1063.5,737.4 1073.5,736.8 1083.5,736.3 1093.5,736.3 1102.5,736.8 1112.5,737.2 1122.5,737.7 1131.5,738.0 1141.5,738.0 1151.5,737.5 1161.5,737.1 1170.5,736.5 1180.5,736.2 1190.5,736.1 1200.5,735.9 1209.5,736.3 1219.5,737.4 1229.5,738.3 1239.5,739.0 1248.5,740.0 1258.5,740.6 1268.5,740.8 1277.5,740.5 1287.5,740.0 1297.5,739.4 1307.5,738.7" fill="none" stroke="#ff6d00" stroke-width="1.2" stroke-linejoin="round"/>
</g>
<path d="M1298.3 563.6 A9.8 9.8 0 1 1 1300.3 573.0" fill="none" stroke="#9c27b0" stroke-width="1.15"/>
<path d="M1310.9 561.2 L1303.4 566.7 L1307.6 566.7 L1304.2 571.7 L1311.6 566.0 L1307.7 566.0Z" fill="#9c27b0" stroke="#9c27b0" stroke-width="0.7" stroke-linejoin="round"/>
<path d="M1296.9 564.9 Q1297.7 569.1 1301.9 569.9 Q1297.7 570.7 1296.9 574.9 Q1296.1 570.7 1291.9 569.9 Q1296.1 569.1 1296.9 564.9Z" fill="#7c4dff"/>
<g shape-rendering="crispEdges">
<rect x="1763" y="27" width="1" height="552" fill="#4b4b4b"/>
<rect x="1763" y="580" width="1" height="136" fill="#4b4b4b"/>
<rect x="1763" y="717" width="1" height="105" fill="#4b4b4b"/>
<rect x="10" y="794" width="1815" height="1" fill="#4b4b4b"/>
</g>
<text x="1772.0" y="91.0" font-size="11" fill="#333" textLength="42.5" lengthAdjust="spacingAndGlyphs">2,200.00</text>
<text x="1772.0" y="132.0" font-size="11" fill="#333" textLength="42.5" lengthAdjust="spacingAndGlyphs">2,160.00</text>
<text x="1772.0" y="174.0" font-size="11" fill="#333" textLength="42.5" lengthAdjust="spacingAndGlyphs">2,120.00</text>
<text x="1772.0" y="215.0" font-size="11" fill="#333" textLength="42.5" lengthAdjust="spacingAndGlyphs">2,080.00</text>
<text x="1772.0" y="257.0" font-size="11" fill="#333" textLength="42.5" lengthAdjust="spacingAndGlyphs">2,040.00</text>
<text x="1772.0" y="298.0" font-size="11" fill="#333" textLength="42.5" lengthAdjust="spacingAndGlyphs">2,000.00</text>
<text x="1772.0" y="339.0" font-size="11" fill="#333" textLength="42.5" lengthAdjust="spacingAndGlyphs">1,960.00</text>
<text x="1772.0" y="381.0" font-size="11" fill="#333" textLength="42.5" lengthAdjust="spacingAndGlyphs">1,920.00</text>
<text x="1772.0" y="422.0" font-size="11" fill="#333" textLength="42.5" lengthAdjust="spacingAndGlyphs">1,880.00</text>
<text x="1772.0" y="463.0" font-size="11" fill="#333" textLength="42.5" lengthAdjust="spacingAndGlyphs">1,840.00</text>
<text x="1772.0" y="505.0" font-size="11" fill="#333" textLength="42.5" lengthAdjust="spacingAndGlyphs">1,800.00</text>
<text x="1772.0" y="546.0" font-size="11" fill="#333" textLength="42.5" lengthAdjust="spacingAndGlyphs">1,760.00</text>
<text x="1772.0" y="614.0" font-size="11" fill="#333" textLength="26.9" lengthAdjust="spacingAndGlyphs">60.00</text>
<text x="1772.0" y="661.2" font-size="11" fill="#333" textLength="26.9" lengthAdjust="spacingAndGlyphs">40.00</text>
<text x="1772.0" y="709.1" font-size="11" fill="#333" textLength="26.9" lengthAdjust="spacingAndGlyphs">20.00</text>
<text x="1772.0" y="737.2" font-size="11" fill="#333" textLength="21.0" lengthAdjust="spacingAndGlyphs">0.00</text>
<text x="1772.0" y="772.0" font-size="11" fill="#333" textLength="32.3" lengthAdjust="spacingAndGlyphs">−40.00</text>
<path d="M1764 65 H1817 a2 2 0 0 1 2 2 V80 a2 2 0 0 1 -2 2 H1764Z" fill="#ff0000"/>
<text x="1772.0" y="76.7" font-size="11" fill="#fff" textLength="42.6" lengthAdjust="spacingAndGlyphs" font-weight="bold">2,214.71</text>
<path d="M1764 133 H1817 a2 2 0 0 1 2 2 V148 a2 2 0 0 1 -2 2 H1764Z" fill="#ff0000"/>
<text x="1772.0" y="144.7" font-size="11" fill="#fff" textLength="42.6" lengthAdjust="spacingAndGlyphs" font-weight="bold">2,148.82</text>
<path d="M1764 288 H1817 a2 2 0 0 1 2 2 V303 a2 2 0 0 1 -2 2 H1764Z" fill="#ff0000"/>
<text x="1772.0" y="299.7" font-size="11" fill="#fff" textLength="42.6" lengthAdjust="spacingAndGlyphs" font-weight="bold">1,998.73</text>
<path d="M1764 339 H1817 a2 2 0 0 1 2 2 V354 a2 2 0 0 1 -2 2 H1764Z" fill="#ff0000"/>
<text x="1772.0" y="350.7" font-size="11" fill="#fff" textLength="42.6" lengthAdjust="spacingAndGlyphs" font-weight="bold">1,949.25</text>
<path d="M1764 446 H1817 a2 2 0 0 1 2 2 V461 a2 2 0 0 1 -2 2 H1764Z" fill="#4caf50"/>
<text x="1772.0" y="457.7" font-size="11" fill="#fff" textLength="42.6" lengthAdjust="spacingAndGlyphs" font-weight="bold">1,846.21</text>
<path d="M1764 539 H1817 a2 2 0 0 1 2 2 V554 a2 2 0 0 1 -2 2 H1764Z" fill="#4caf50"/>
<text x="1772.0" y="550.7" font-size="11" fill="#fff" textLength="42.6" lengthAdjust="spacingAndGlyphs" font-weight="bold">1,756.59</text>
<path d="M1764 398 H1817 a2 2 0 0 1 2 2 V426 a2 2 0 0 1 -2 2 H1764Z" fill="#0000ff"/>
<text x="1772.0" y="409.9" font-size="11" fill="#fff" textLength="42.6" lengthAdjust="spacingAndGlyphs" font-weight="bold">1,892.25</text>
<text x="1772.0" y="422.6" font-size="11" fill="#d4d4ff" textLength="27.2" lengthAdjust="spacingAndGlyphs">00:38</text>
<rect x="1767.2" y="30.9" width="54.2" height="26.4" rx="4" fill="#fff" stroke="#f0f0f0" stroke-width="1.3"/>
<text x="1776.4" y="48.7" font-size="12" fill="#222" textLength="20.4" lengthAdjust="spacingAndGlyphs">USD</text>
<text x="60.9" y="811.0" font-size="11" fill="#333" text-anchor="middle" textLength="26.8" lengthAdjust="spacingAndGlyphs">18:00</text>
<text x="118.9" y="811.0" font-size="11" fill="#333" text-anchor="middle">9</text>
<text x="176.9" y="811.0" font-size="11" fill="#333" text-anchor="middle" textLength="26.8" lengthAdjust="spacingAndGlyphs">06:00</text>
<text x="235.9" y="811.0" font-size="11" fill="#333" text-anchor="middle" textLength="26.8" lengthAdjust="spacingAndGlyphs">12:00</text>
<text x="293.9" y="811.0" font-size="11" fill="#333" text-anchor="middle" textLength="26.8" lengthAdjust="spacingAndGlyphs">18:00</text>
<text x="352.9" y="811.0" font-size="11" fill="#333" text-anchor="middle" textLength="10.9" lengthAdjust="spacingAndGlyphs">10</text>
<text x="410.9" y="811.0" font-size="11" fill="#333" text-anchor="middle" textLength="26.8" lengthAdjust="spacingAndGlyphs">06:00</text>
<text x="468.9" y="811.0" font-size="11" fill="#333" text-anchor="middle" textLength="26.8" lengthAdjust="spacingAndGlyphs">12:00</text>
<text x="527.9" y="811.0" font-size="11" fill="#333" text-anchor="middle" textLength="26.8" lengthAdjust="spacingAndGlyphs">18:00</text>
<text x="585.9" y="811.0" font-size="11" fill="#333" text-anchor="middle" textLength="10.9" lengthAdjust="spacingAndGlyphs">11</text>
<text x="644.9" y="811.0" font-size="11" fill="#333" text-anchor="middle" textLength="26.8" lengthAdjust="spacingAndGlyphs">06:00</text>
<text x="702.9" y="811.0" font-size="11" fill="#333" text-anchor="middle" textLength="26.8" lengthAdjust="spacingAndGlyphs">12:00</text>
<text x="761.9" y="811.0" font-size="11" fill="#333" text-anchor="middle" textLength="26.8" lengthAdjust="spacingAndGlyphs">18:00</text>
<text x="819.9" y="811.0" font-size="11" fill="#333" text-anchor="middle" textLength="10.9" lengthAdjust="spacingAndGlyphs">12</text>
<text x="877.9" y="811.0" font-size="11" fill="#333" text-anchor="middle" textLength="26.8" lengthAdjust="spacingAndGlyphs">06:00</text>
<text x="936.9" y="811.0" font-size="11" fill="#333" text-anchor="middle" textLength="26.8" lengthAdjust="spacingAndGlyphs">12:00</text>
<text x="994.9" y="811.0" font-size="11" fill="#333" text-anchor="middle" textLength="26.8" lengthAdjust="spacingAndGlyphs">18:00</text>
<text x="1053.9" y="811.0" font-size="11" fill="#333" text-anchor="middle" textLength="10.9" lengthAdjust="spacingAndGlyphs">13</text>
<text x="1111.9" y="811.0" font-size="11" fill="#333" text-anchor="middle" textLength="26.8" lengthAdjust="spacingAndGlyphs">06:00</text>
<text x="1169.9" y="811.0" font-size="11" fill="#333" text-anchor="middle" textLength="26.8" lengthAdjust="spacingAndGlyphs">12:00</text>
<text x="1228.9" y="811.0" font-size="11" fill="#333" text-anchor="middle" textLength="26.8" lengthAdjust="spacingAndGlyphs">18:00</text>
<text x="1286.9" y="811.0" font-size="11" fill="#333" text-anchor="middle" textLength="10.9" lengthAdjust="spacingAndGlyphs">14</text>
<text x="1345.9" y="811.0" font-size="11" fill="#333" text-anchor="middle" textLength="26.8" lengthAdjust="spacingAndGlyphs">06:00</text>
<text x="1403.9" y="811.0" font-size="11" fill="#333" text-anchor="middle" textLength="26.8" lengthAdjust="spacingAndGlyphs">12:00</text>
<text x="1461.9" y="811.0" font-size="11" fill="#333" text-anchor="middle" textLength="26.8" lengthAdjust="spacingAndGlyphs">18:00</text>
<text x="1520.9" y="811.0" font-size="11" fill="#333" text-anchor="middle" textLength="10.9" lengthAdjust="spacingAndGlyphs">15</text>
<text x="1578.9" y="811.0" font-size="11" fill="#333" text-anchor="middle" textLength="26.8" lengthAdjust="spacingAndGlyphs">06:00</text>
<text x="1637.9" y="811.0" font-size="11" fill="#333" text-anchor="middle" textLength="26.8" lengthAdjust="spacingAndGlyphs">12:00</text>
<text x="1695.9" y="811.0" font-size="11" fill="#333" text-anchor="middle" textLength="26.8" lengthAdjust="spacingAndGlyphs">18:00</text>
<text x="1754.9" y="811.0" font-size="11" fill="#333" text-anchor="middle" textLength="10.9" lengthAdjust="spacingAndGlyphs">16</text>
<text x="18.3" y="45.8" font-size="12" fill="#4a4a4a" textLength="200.8" lengthAdjust="spacingAndGlyphs">Ethereum / U.S. Dollar · 1h · KRAKEN</text>
<text x="226.9" y="45.8" font-size="12" fill="#4a4a4a">O</text>
<text x="235.8" y="45.8" font-size="12" fill="#265d38" textLength="45.0" lengthAdjust="spacingAndGlyphs">1,881.03</text>
<text x="289.0" y="45.8" font-size="12" fill="#4a4a4a">H</text>
<text x="297.5" y="45.8" font-size="12" fill="#265d38" textLength="45.0" lengthAdjust="spacingAndGlyphs">1,892.52</text>
<text x="351.2" y="45.8" font-size="12" fill="#4a4a4a">L</text>
<text x="357.2" y="45.8" font-size="12" fill="#265d38" textLength="44.7" lengthAdjust="spacingAndGlyphs">1,880.03</text>
<text x="410.2" y="45.8" font-size="12" fill="#4a4a4a">C</text>
<text x="417.8" y="45.8" font-size="12" fill="#265d38" textLength="44.8" lengthAdjust="spacingAndGlyphs">1,892.25</text>
<text x="471.3" y="45.8" font-size="12" fill="#265d38" textLength="84.5" lengthAdjust="spacingAndGlyphs">+11.73 (+0.62%)</text>
<text x="18.3" y="62.9" font-size="12" fill="#4a4a4a" textLength="158.3" lengthAdjust="spacingAndGlyphs">EMA (100, close, 0, SMA, 100)</text>
<text x="184.6" y="62.9" font-size="12" fill="#00bcd4" textLength="46.5" lengthAdjust="spacingAndGlyphs">1,932.54</text>
<text x="18.2" y="598.7" font-size="12" fill="#4a4a4a" textLength="140.4" lengthAdjust="spacingAndGlyphs">RSI (14, close, SMA, 14, 2)</text>
<text x="166.4" y="598.7" font-size="12" fill="#9c27b0" textLength="28.7" lengthAdjust="spacingAndGlyphs">55.29</text>
<text x="203.1" y="598.7" font-size="12" fill="#fcdf3e" textLength="28.8" lengthAdjust="spacingAndGlyphs">45.26</text>
<text x="240.6" y="598.7" font-size="14" fill="#4a4a4a" textLength="7.4" lengthAdjust="spacingAndGlyphs" font-family="'DejaVu Sans', sans-serif">∅</text>
<text x="255.6" y="598.7" font-size="14" fill="#4a4a4a" textLength="7.4" lengthAdjust="spacingAndGlyphs" font-family="'DejaVu Sans', sans-serif">∅</text>
<text x="18.4" y="736.0" font-size="12" fill="#4a4a4a" textLength="184.4" lengthAdjust="spacingAndGlyphs">MACD (12, 26, close, 9, EMA, EMA)</text>
<text x="211.2" y="736.0" font-size="12" fill="#26a69a" textLength="22.0" lengthAdjust="spacingAndGlyphs">3.93</text>
<text x="242.8" y="736.0" font-size="12" fill="#2962ff" textLength="27.1" lengthAdjust="spacingAndGlyphs">−3.05</text>
<text x="278.0" y="736.0" font-size="12" fill="#ff6d00" textLength="29.4" lengthAdjust="spacingAndGlyphs">−6.98</text>
<g fill="#1b1b1b"><path d="M10 834.2 H18 V844 H13.5 V837.9 H10Z"/><circle cx="21.05" cy="835.9" r="1.85"/><path d="M24.6 834.2 H29.7 L25.6 844 H20.9Z"/></g>
<text x="32.9" y="844.0" font-size="13.5" fill="#1b1b1b" textLength="70.4" lengthAdjust="spacingAndGlyphs">TradingView</text>
</svg>
</body></html>
